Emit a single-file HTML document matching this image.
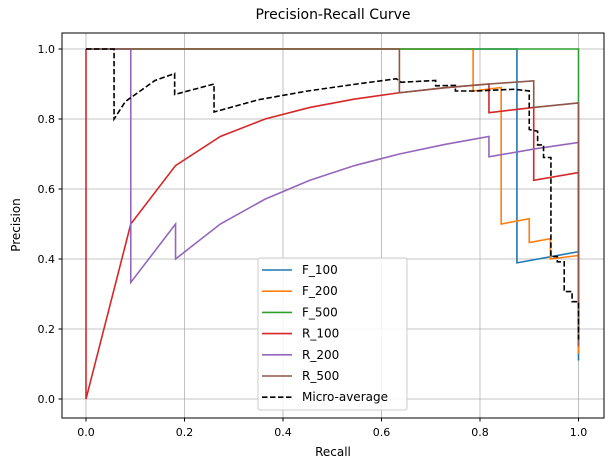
<!DOCTYPE html>
<html><head><meta charset="utf-8"><style>
body{margin:0;background:#fff;}
svg{display:block;font-family:"DejaVu Sans","Liberation Sans",sans-serif;}
</style></head><body>
<svg id="chart" width="613" height="470" xmlns="http://www.w3.org/2000/svg">
<rect width="613" height="470" fill="#fff"/>
<text x="333" y="19" font-size="14" text-anchor="middle">Precision-Recall Curve</text>
<g id="grid"></g>
<g id="series"></g>
<rect x="62" y="33" width="542" height="385" fill="none" stroke="#000" stroke-width="1"/>
<g id="ticks"></g>
<text x="333" y="456" font-size="12" text-anchor="middle">Recall</text>
<text transform="translate(20,225) rotate(-90)" font-size="12" text-anchor="middle">Precision</text>
<g id="legend"></g>
</svg>
<script>
const xTicks=[0,0.2,0.4,0.6,0.8,1.0];
const yTicks=[0,0.2,0.4,0.6,0.8,1.0];
const seriesNames=["F_100","F_200","F_500","R_100","R_200","R_500","Micro-average"];
const seriesColors=["#1f77b4","#ff7f0e","#2ca02c","#d62728","#9467bd","#8c564b","#000"];
const f100R=[0,0.875,0.875,1,1];
const f100P=[1,1,0.389,0.421,0.11];
const f200R=[0,0.786,0.786,0.843,0.843,0.9,0.9,0.943,0.943,1,1];
const f200P=[1,1,0.88,0.89,0.5,0.515,0.447,0.458,0.4,0.41,0.13];
const f500R=[0,1,1];
const f500P=[1,1,0.15];
const r100R=[0,0,1/11,2/11,3/11,4/11,5/11,6/11,7/11,8/11,9/11,9/11,10/11,10/11,1,1];
const r100P=[1,0,0.5,0.667,0.75,0.8,0.833,0.857,0.875,0.889,0.9,0.818,0.833,0.625,0.647,0.15];
const r200R=[0,1/11,1/11,2/11,2/11,3/11,4/11,5/11,6/11,7/11,8/11,9/11,9/11,10/11,1,1];
const r200P=[1,1,0.333,0.5,0.4,0.5,0.571,0.625,0.667,0.7,0.727,0.75,0.692,0.714,0.733,0.15];
const r500R=[0,7/11,7/11,8/11,9/11,10/11,10/11,1,1];
const r500P=[1,1,0.875,0.889,0.9,0.909,0.833,0.846,0.15];
const microR=[0,0.057,0.057,0.08,0.11,0.14,0.18,0.18,0.26,0.26,0.35,0.45,0.55,0.63,0.64,0.71,0.71,0.75,0.75,0.79,0.87,0.9,0.9,0.917,0.917,0.929,0.929,0.944,0.944,0.957,0.957,0.971,0.971,0.987,0.987,1,1];
const microP=[1,1,0.8,0.85,0.88,0.91,0.93,0.87,0.9,0.82,0.855,0.88,0.9,0.915,0.905,0.91,0.895,0.896,0.88,0.88,0.885,0.88,0.77,0.765,0.726,0.726,0.69,0.69,0.407,0.407,0.392,0.392,0.307,0.307,0.278,0.278,0.17];
const allR=[f100R,f200R,f500R,r100R,r200R,r500R,microR];
const allP=[f100P,f200P,f500P,r100P,r200P,r500P,microP];
const NS="http://www.w3.org/2000/svg";
const sx=v=>86+v*492.5, sy=v=>399-v*350;
function mk(t,a,p){const e=document.createElementNS(NS,t);for(const k in a)e.setAttribute(k,a[k]);p.appendChild(e);return e;}
const grid=document.getElementById('grid'),ticks=document.getElementById('ticks');
xTicks.forEach(t=>{
 const g=mk('line',{x1:sx(t),x2:sx(t),y1:33,y2:418,stroke:'#b0b0b0','stroke-width':0.8},grid);
 
 
 mk('line',{x1:sx(t),x2:sx(t),y1:418,y2:421.5,stroke:'#000'},ticks);
 const l=mk('text',{x:sx(t),y:436,'font-size':11,'text-anchor':'middle'},ticks);l.textContent=t.toFixed(1);
 
 
});
yTicks.forEach(t=>{
 const g=mk('line',{x1:62,x2:604,y1:sy(t),y2:sy(t),stroke:'#b0b0b0','stroke-width':0.8},grid);
 
 
 mk('line',{x1:58.5,x2:62,y1:sy(t),y2:sy(t),stroke:'#000'},ticks);
 const l=mk('text',{x:55,y:sy(t)+4,'font-size':11,'text-anchor':'end'},ticks);l.textContent=t.toFixed(1);
 
 
});
const sg=document.getElementById('series');
allR.forEach((R,i)=>{
 const pts=R.map((r,j)=>sx(r)+','+sy(allP[i][j])).join(' ');
 const a={points:pts,fill:'none',stroke:seriesColors[i],'stroke-width':1.6};
 if(i==6)a['stroke-dasharray']='5.5,2.5';
 const e=mk('polyline',a,sg);
 
 
});
const lg=document.getElementById('legend');
mk('rect',{x:258,y:258,width:149,height:152,rx:2,fill:'#fff','fill-opacity':0.85,stroke:'#ccc'},lg);
seriesNames.forEach((n,i)=>{
 const y=270+i*21.2;
 const a={x1:262,x2:292,y1:y,y2:y,stroke:seriesColors[i],'stroke-width':1.6};
 if(i==6)a['stroke-dasharray']='5.5,2.5';
 const ln=mk('line',a,lg);
 
 
 const t=mk('text',{x:302,y:y+4,'font-size':12},lg);t.textContent=n;
 
 
});
</script>
</body></html>
